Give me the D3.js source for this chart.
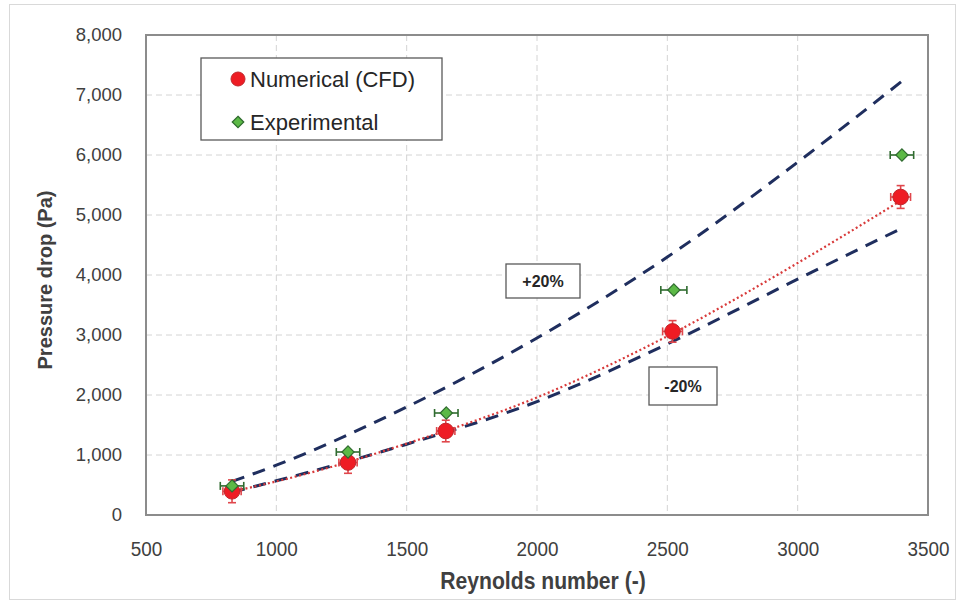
<!DOCTYPE html>
<html><head><meta charset="utf-8">
<script src="https://cdn.jsdelivr.net/npm/d3@7"></script>
<style>
body{margin:0;background:#fff;}
svg{display:block;}
</style></head>
<body>
<svg id="c" width="961" height="605"></svg>
<script>
// ---- data ----
const numRe   = [830, 1275, 1650, 2520, 3395];
const numDP   = [395, 875, 1400, 3060, 5300];
const numDPErr= [190, 180, 180, 180, 190];
const numReErr= [35, 35, 35, 38, 38];

const expRe   = [830, 1275, 1652, 2525, 3400];
const expDP   = [485, 1050, 1700, 3750, 6000];
const expReErr= [45, 45, 45, 50, 45];

const fitRe   = [830, 1000, 1250, 1500, 2000, 2500, 3000, 3400];
const fitDP   = [390, 560, 850, 1190, 1960, 2980, 4200, 5250];

const upRe    = [830, 1000, 1500, 2000, 2500, 3000, 3400];
const upDP    = [560, 830, 1800, 2950, 4300, 5880, 7230];
const loRe    = [830, 1000, 1500, 2000, 2500, 3000, 3400];
const loDP    = [380, 570, 1180, 1890, 2850, 3930, 4780];

const xTicks = [500, 1000, 1500, 2000, 2500, 3000, 3500];
const yTicks = [0, 1000, 2000, 3000, 4000, 5000, 6000, 7000, 8000];

// ---- layout ----
const svg = d3.select("#c");
const L = 146, R = 928, T = 35, B = 515;
const x = d3.scaleLinear().domain([500, 3500]).range([L, R]);
const y = d3.scaleLinear().domain([0, 8000]).range([B, T]);
const sans = "'Liberation Sans',Arial,sans-serif";

svg.append("rect").attr("x",9.5).attr("y",4.5).attr("width",946).attr("height",595)
  .attr("fill","#fff").attr("stroke","#d9d9d9").attr("stroke-width",1);

// gridlines
const g = svg.append("g");
g.selectAll(".hg").data(yTicks.slice(1,-1)).join("line")
  .attr("x1",L).attr("x2",R).attr("y1",d=>y(d)).attr("y2",d=>y(d))
  .attr("stroke","#d4d4d4").attr("stroke-width",1).attr("stroke-dasharray","6,4");
g.selectAll(".vg").data(xTicks.slice(1,-1)).join("line")
  .attr("y1",T).attr("y2",B).attr("x1",d=>x(d)).attr("x2",d=>x(d))
  .attr("stroke","#d4d4d4").attr("stroke-width",1).attr("stroke-dasharray","6,4");

// axes (labels via d3 axes)
const yAxis = d3.axisLeft(y).tickValues(yTicks).tickSize(0).tickPadding(24)
  .tickFormat(d3.format(","));
const ya = svg.append("g").attr("transform",`translate(${L},0)`).call(yAxis);
ya.select(".domain").remove();
ya.selectAll("text").attr("font-family",sans).attr("font-size",18.5).attr("fill","#404040");

const xAxis = d3.axisBottom(x).tickValues(xTicks).tickSize(0).tickPadding(26)
  .tickFormat(d3.format("d"));
const xa = svg.append("g").attr("transform",`translate(0,${B})`).call(xAxis);
xa.select(".domain").remove();
xa.selectAll("text").attr("font-family",sans).attr("font-size",21).attr("fill","#404040")
  .attr("transform","scale(0.9,1)");

// frame
svg.append("rect").attr("x",L).attr("y",T).attr("width",R-L).attr("height",B-T)
  .attr("fill","none").attr("stroke","#8c8c8c").attr("stroke-width",2);

// axis titles
svg.append("text").attr("transform",`translate(${(L+R)/2+6},589) scale(0.92,1)`).attr("text-anchor","middle")
  .attr("font-family",sans).attr("font-weight","bold").attr("font-size",23).attr("fill","#404040")
  .text("Reynolds number (-)");
svg.append("text").attr("transform",`translate(52,${(T+B)/2+5}) rotate(-90)`).attr("text-anchor","middle")
  .attr("font-family",sans).attr("font-weight","bold").attr("font-size",20).attr("fill","#404040")
  .text("Pressure drop (Pa)");

// lines
const line = d3.line().x(d=>x(d[0])).y(d=>y(d[1])).curve(d3.curveMonotoneX);
svg.append("path").datum(d3.zip(upRe, upDP)).attr("d",line)
  .attr("fill","none").attr("stroke","#1f2e5e").attr("stroke-width",3).attr("stroke-dasharray","13,9");
svg.append("path").datum(d3.zip(loRe, loDP)).attr("d",line)
  .attr("fill","none").attr("stroke","#1f2e5e").attr("stroke-width",3).attr("stroke-dasharray","13,9");
svg.append("path").datum(d3.zip(fitRe, fitDP)).attr("d",line)
  .attr("fill","none").attr("stroke","#d83a3a").attr("stroke-width",2.2).attr("stroke-dasharray","2,2.6");

// error bars
function errBars(xs, ys, xe, ye, col){
  const eg = svg.append("g").attr("stroke",col).attr("stroke-width",1.6).attr("fill","none");
  xs.forEach((xv,i)=>{
    const px = x(xv), py = y(ys[i]);
    if (xe){
      const x0 = x(xv - xe[i]), x1 = x(xv + xe[i]);
      eg.append("line").attr("x1",x0).attr("x2",x1).attr("y1",py).attr("y2",py);
      eg.append("line").attr("x1",x0).attr("x2",x0).attr("y1",py-4).attr("y2",py+4);
      eg.append("line").attr("x1",x1).attr("x2",x1).attr("y1",py-4).attr("y2",py+4);
    }
    if (ye){
      const y0 = y(ys[i] - ye[i]), y1 = y(ys[i] + ye[i]);
      eg.append("line").attr("x1",px).attr("x2",px).attr("y1",y0).attr("y2",y1);
      eg.append("line").attr("x1",px-4).attr("x2",px+4).attr("y1",y0).attr("y2",y0);
      eg.append("line").attr("x1",px-4).attr("x2",px+4).attr("y1",y1).attr("y2",y1);
    }
  });
}
errBars(numRe, numDP, numReErr, numDPErr, "#e0474c");
errBars(expRe, expDP, expReErr, null, "#2f6b2f");

// markers
const diamond = d3.symbol().type(d3.symbolDiamond2);
svg.append("g").selectAll("circle").data(d3.zip(numRe,numDP)).join("circle")
  .attr("cx",d=>x(d[0])).attr("cy",d=>y(d[1])).attr("r",7.8)
  .attr("fill","#ee1c24").attr("stroke","#c0282d").attr("stroke-width",1);
svg.append("g").selectAll("path").data(d3.zip(expRe,expDP)).join("path")
  .attr("transform",d=>`translate(${x(d[0])},${y(d[1])})`)
  .attr("d",diamond.size(95)())
  .attr("fill","#5cb946").attr("stroke","#2f6b2f").attr("stroke-width",1.2);

// annotation boxes
function box(cx, cy, w, h, txt){
  svg.append("rect").attr("x",cx-w/2).attr("y",cy-h/2).attr("width",w).attr("height",h)
    .attr("fill","#fff").attr("stroke","#595959").attr("stroke-width",1.3);
  svg.append("text").attr("x",cx).attr("y",cy+6).attr("text-anchor","middle")
    .attr("font-family",sans).attr("font-weight","bold").attr("font-size",16).attr("fill","#262626")
    .text(txt);
}
box(543, 281, 74, 34, "+20%");
box(683, 386, 68, 38, "-20%");

// legend
svg.append("rect").attr("x",201).attr("y",58).attr("width",241).attr("height",82)
  .attr("fill","#fff").attr("stroke","#595959").attr("stroke-width",1.3);
svg.append("circle").attr("cx",238).attr("cy",79).attr("r",7)
  .attr("fill","#ee1c24").attr("stroke","#c0282d").attr("stroke-width",1);
svg.append("path").attr("transform","translate(238,122)").attr("d",diamond.size(85)())
  .attr("fill","#5cb946").attr("stroke","#2f6b2f").attr("stroke-width",1.2);
svg.append("text").attr("x",250).attr("y",87).attr("font-family",sans).attr("font-size",22)
  .attr("fill","#262626").text("Numerical (CFD)");
svg.append("text").attr("x",250).attr("y",130).attr("font-family",sans).attr("font-size",22)
  .attr("fill","#262626").text("Experimental");
</script>
</body></html>
